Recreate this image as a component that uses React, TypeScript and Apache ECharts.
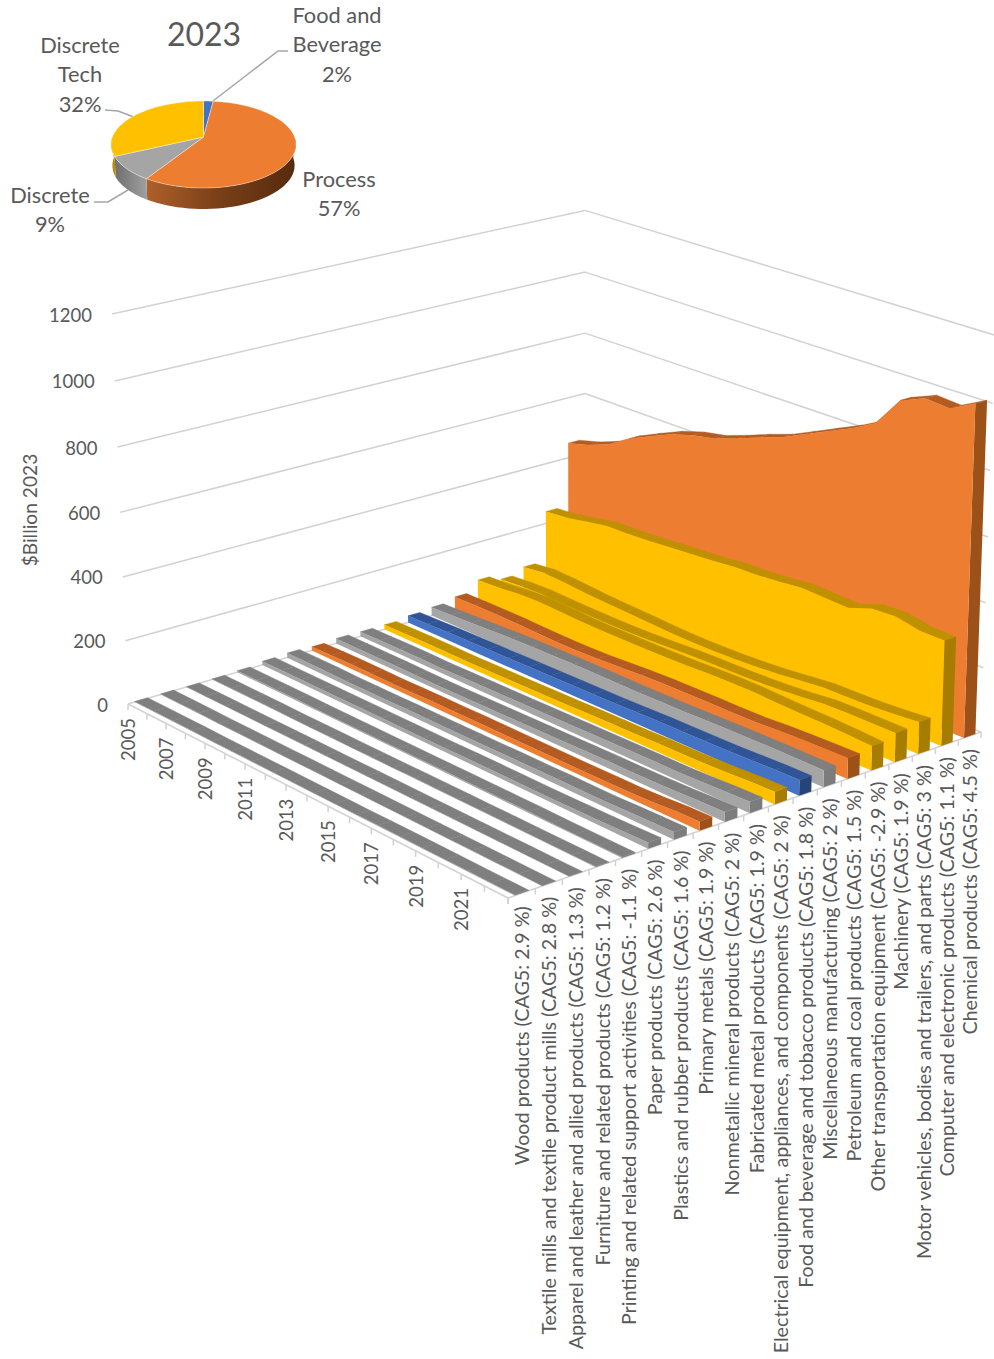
import React, { useEffect, useRef } from "react";
import * as echarts from "echarts";

// Industries along the depth axis, front to back.
const industries = [
  "Wood products (CAG5: 2.9 %)",
  "Textile mills and textile product mills (CAG5: 2.8 %)",
  "Apparel and leather and allied products (CAG5: 1.3 %)",
  "Furniture and related products (CAG5: 1.2 %)",
  "Printing and related support activities (CAG5: -1.1 %)",
  "Paper products (CAG5: 2.6 %)",
  "Plastics and rubber products (CAG5: 1.6 %)",
  "Primary metals (CAG5: 1.9 %)",
  "Nonmetallic mineral products (CAG5: 2 %)",
  "Fabricated metal products (CAG5: 1.9 %)",
  "Electrical equipment, appliances, and components (CAG5: 2 %)",
  "Food and beverage and tobacco products (CAG5: 1.8 %)",
  "Miscellaneous manufacturing (CAG5: 2 %)",
  "Petroleum and coal products (CAG5: 1.5 %)",
  "Other transportation equipment (CAG5: -2.9 %)",
  "Machinery (CAG5: 1.9 %)",
  "Motor vehicles, bodies and trailers, and parts (CAG5: 3 %)",
  "Computer and electronic products (CAG5: 1.1 %)",
  "Chemical products (CAG5: 4.5 %)",
];

// Sector of each industry, same order as above.
const sectors = [
  "discrete", "discrete", "discrete", "discrete", "discrete", "discrete", "discrete",
  "process", "discrete", "discrete", "tech", "food", "discrete", "process",
  "tech", "tech", "tech", "tech", "process",
];

const yearLabels = ["2005", "2007", "2009", "2011", "2013", "2015", "2017", "2019", "2021"];
const yearCount = 19;
const valueTicks = [0, 200, 400, 600, 800, 1000, 1200];

// $Billion, 2005 to 2023.
const wood = [2, 2, 2, 2, 1, 1, 1, 1, 1, 1, 1, 1, 2, 2, 2, 2, 2, 2, 2];
const textile = [2, 2, 2, 1, 1, 1, 1, 1, 1, 1, 1, 1, 1, 1, 1, 1, 1, 1, 1];
const apparel = [1, 1, 1, 1, 1, 1, 1, 1, 1, 1, 1, 1, 1, 1, 1, 1, 1, 1, 1];
const furniture = [2, 2, 2, 2, 1, 1, 1, 1, 1, 1, 2, 2, 2, 2, 2, 2, 2, 2, 2];
const printing = [5, 5, 5, 5, 4, 4, 4, 4, 4, 4, 4, 4, 4, 4, 4, 3, 3, 3, 3];
const paper = [12, 12, 12, 12, 12, 12, 12, 12, 12, 12, 13, 13, 13, 13, 13, 14, 15, 17, 19];
const plastics = [15, 15, 15, 14, 14, 14, 15, 15, 15, 16, 16, 17, 17, 18, 18, 18, 20, 22, 23];
const primaryMetals = [12, 14, 15, 15, 14, 15, 16, 16, 17, 17, 17, 17, 17, 17, 18, 18, 21, 26, 28];
const nonmetallic = [16, 16, 16, 16, 15, 15, 15, 16, 17, 18, 19, 20, 21, 22, 22, 23, 25, 28, 30];
const fabricated = [15, 16, 17, 17, 16, 17, 18, 19, 20, 21, 22, 23, 24, 25, 26, 26, 29, 32, 34];
const electrical = [15, 16, 17, 17, 16, 17, 18, 19, 20, 21, 23, 24, 25, 27, 28, 29, 32, 36, 38];
const foodBeverage = [22, 24, 26, 27, 28, 29, 30, 31, 32, 33, 34, 36, 38, 39, 40, 41, 44, 47, 48];
const miscellaneous = [28, 31, 34, 37, 40, 42, 43, 44, 44, 44, 44, 45, 46, 48, 50, 51, 52, 52, 52];
const petroleum = [40, 41, 41, 40, 38, 36, 36, 38, 42, 46, 49, 50, 51, 51, 52, 57, 60, 62, 64];
const otherTransport = [74, 78, 85, 88, 85, 81, 80, 80, 80, 81, 83, 86, 88, 88, 85, 83, 82, 79, 75];
const machinery = [55, 60, 62, 59, 57, 56, 56, 58, 61, 65, 67, 68, 70, 74, 80, 88, 90, 90, 90];
const motorVehicles = [74, 82, 79, 73, 68, 65, 62, 58, 56, 56, 58, 62, 68, 76, 84, 85, 87, 92, 99];
const computerElectronic = [240, 246, 259, 272, 273, 277, 283, 288, 293, 301, 303, 309, 317, 314, 311, 337, 341, 326, 325];
const chemical = [449, 468, 495, 538, 571, 602, 624, 638, 663, 691, 716, 750, 784, 818, 858, 951, 981, 975, 1014];

const rowValues = [
  wood, textile, apparel, furniture, printing, paper, plastics, primaryMetals, nonmetallic,
  fabricated, electrical, foodBeverage, miscellaneous, petroleum, otherTransport, machinery,
  motorVehicles, computerElectronic, chemical,
];

// Share of 2023 output by sector, clockwise from twelve o'clock.
const pieNames = ["Food and\nBeverage", "Process", "Discrete", "Discrete\nTech"];
const pieShares = [2, 57, 9, 32];

const INK = "#595959";
const FONT = "Lato";
const RULE = "#D2D2D2";
const AXIS_MAX = 1200;
const HALF_DEPTH = 0.0132;

const palette: Record<string, { face: string; top: string; side: string }> = {
  discrete: { face: "#A5A5A5", top: "#7F7F7F", side: "#7C7C7C" },
  process: { face: "#ED7D31", top: "#B35B20", side: "#9C5119" },
  tech: { face: "#FFC000", top: "#BF9000", side: "#A67D00" },
  food: { face: "#4472C4", top: "#2F5597", side: "#264478" },
};

// Pinhole projection of the plot box: u runs across industries, v across years, t is value / max.
function project(u: number, v: number, t: number): number[] {
  const w = 1 + 0.09129 * u - 0.11026 * v - 0.0338 * t;
  return [(128 + 510.4 * u + 324 * v - 19.8 * t) / w, (704 - 80.9 * u + 95 * v - 400.6 * t) / w];
}

const rowU = (i: number) => (i + 0.5) / industries.length;
const yearV = (k: number) => k / (yearCount - 1);

function renderFrame() {
  const children: any[] = [];
  const line = (a: number[], b: number[]) =>
    children.push({
      type: "line",
      shape: { x1: a[0], y1: a[1], x2: b[0], y2: b[1] },
      style: { stroke: RULE, lineWidth: 1.5 },
    });
  const label = (text: string, x: number, y: number, rotation: number, align: string, size: number) =>
    children.push({
      type: "text",
      x,
      y,
      rotation,
      style: { text, x: 0, y: 0, align, verticalAlign: "middle", fill: INK, font: `${size}px ${FONT}` },
    });

  // Back walls.
  for (const tick of valueTicks) {
    const t = tick / AXIS_MAX;
    line(project(0, 0, t), project(1, 0, t));
    line(project(1, 0, t), project(1, 1, t));
    const p = project(0, 0, t);
    label(String(tick), p[0] - 20, p[1] + 0.5, 0, "right", 18.5);
  }

  // Floor edges with their ticks and labels.
  line(project(0, 0, 0), project(0, 1, 0));
  line(project(0, 1, 0), project(1, 1, 0));
  for (let k = 0; k < yearCount; k++) {
    const p = project(0, yearV(k), 0);
    line(p, [p[0], p[1] + 6]);
  }
  yearLabels.forEach((y, n) => {
    const p = project(0, yearV(n * 2), 0);
    label(y, p[0], p[1] + 14, Math.PI / 2, "right", 18.5);
  });
  for (let i = 0; i <= industries.length; i++) {
    const p = project(i / industries.length, 1, 0);
    line(p, [p[0], p[1] + 6]);
  }
  industries.forEach((name, i) => {
    const p = project(rowU(i), 1, 0);
    label(name, p[0], p[1] + 13, Math.PI / 2, "right", 19.7);
  });

  return { type: "group", children };
}

function rowSeries(i: number) {
  const colors = palette[sectors[i]];
  const uf = rowU(i) - HALF_DEPTH;
  const ub = rowU(i) + HALF_DEPTH;
  return {
    type: "custom",
    coordinateSystem: "none",
    silent: true,
    name: industries[i],
    data: rowValues[i].map((value, k) => [k, value]),
    renderItem(params: any, api: any) {
      if (params.dataIndex !== rowValues[i].length - 1) return null;
      const n = rowValues[i].length;
      const children: any[] = [];
      const heights: number[] = [];
      for (let k = 0; k < n; k++) heights.push(api.value(1, k) / AXIS_MAX);

      // Ribbon top, one facet per year step.
      for (let k = 0; k < n - 1; k++) {
        children.push({
          type: "polygon",
          shape: {
            points: [
              project(uf, yearV(k), heights[k]),
              project(uf, yearV(k + 1), heights[k + 1]),
              project(ub, yearV(k + 1), heights[k + 1]),
              project(ub, yearV(k), heights[k]),
            ],
          },
          style: { fill: colors.top, stroke: colors.top, lineWidth: 0.4 },
        });
      }
      // End cap facing the year axis.
      children.push({
        type: "polygon",
        shape: {
          points: [
            project(uf, 1, 0),
            project(ub, 1, 0),
            project(ub, 1, heights[n - 1]),
            project(uf, 1, heights[n - 1]),
          ],
        },
        style: { fill: colors.side },
      });
      // Front face down to the floor.
      const face = [project(uf, 0, 0)];
      for (let k = 0; k < n; k++) face.push(project(uf, yearV(k), heights[k]));
      face.push(project(uf, 1, 0));
      children.push({ type: "polygon", shape: { points: face }, style: { fill: colors.face } });
      return { type: "group", children };
    },
  };
}

// Perspective disc used by the 2023 pie.
const PIE_X = 203.5;
const PIE_Y = 137;
const PIE_R = 91.1;
const PIE_A = 42.2;
const PIE_B = 0.1724;
const PIE_DROP = 21;
const pieColors = ["#4472C4", "#ED7D31", "#A5A5A5", "#FFC000"];
const pieSides: any[] = [
  "#2B4C87",
  new echarts.graphic.LinearGradient(0, 0, 1, 0, [
    { offset: 0, color: "#B0602A" },
    { offset: 0.45, color: "#7C4119" },
    { offset: 1, color: "#552B0E" },
  ]),
  new echarts.graphic.LinearGradient(0, 0, 1, 0, [
    { offset: 0, color: "#6E6E6E" },
    { offset: 1, color: "#A0A0A0" },
  ]),
  "#B88A00",
];

function discPoint(angle: number, dropped: boolean): number[] {
  const s = Math.sin(angle);
  const t = -Math.cos(angle);
  const d = 1 - PIE_B * t;
  const shrink = dropped ? 0.985 : 1;
  return [PIE_X + (shrink * PIE_R * s) / d, PIE_Y + (PIE_A * t) / d + (dropped ? PIE_DROP : 0)];
}

const pieSeries = {
  type: "custom",
  coordinateSystem: "none",
  silent: true,
  name: "2023",
  data: pieNames.map((name, i) => [i, pieShares[i]]),
  renderItem(params: any, api: any) {
    if (params.dataIndex !== pieNames.length - 1) return null;
    const shares = pieNames.map((_, i) => api.value(1, i) as number);
    const total = shares.reduce((a, b) => a + b, 0);
    const sides: any[] = [];
    const tops: any[] = [];
    let start = 0;
    shares.forEach((share, i) => {
      const end = start + (share / total) * Math.PI * 2;
      const rim: number[][] = [];
      const steps = Math.max(4, Math.ceil((end - start) / 0.04));
      for (let n = 0; n <= steps; n++) rim.push(discPoint(start + ((end - start) * n) / steps, false));
      // Only the part of the wall below the disc's widest line can show.
      const a0 = Math.max(start, Math.PI / 2);
      const a1 = Math.min(end, (Math.PI * 3) / 2);
      if (a1 > a0) {
        const wall: number[][] = [];
        for (let n = 0; n <= 40; n++) wall.push(discPoint(a0 + ((a1 - a0) * n) / 40, false));
        for (let n = 40; n >= 0; n--) wall.push(discPoint(a0 + ((a1 - a0) * n) / 40, true));
        sides.push({ type: "polygon", shape: { points: wall }, style: { fill: pieSides[i] } });
      }
      tops.push({
        type: "polygon",
        shape: { points: [[PIE_X, PIE_Y], ...rim] },
        style: { fill: pieColors[i], stroke: "rgba(255,255,255,0.55)", lineWidth: 0.7 },
      });
      start = end;
    });
    return { type: "group", children: [...sides, ...tops] };
  },
};

const pieLabelLayout = [
  { x: 337, y: 14 },
  { x: 339, y: 178 },
  { x: 50, y: 194 },
  { x: 80, y: 44 },
];

const LINE_GAP = 29.6;

function pieLabels(): any[] {
  const out: any[] = [];
  pieNames.forEach((name, i) => {
    const lines = [...name.split("\n"), `${pieShares[i]}%`];
    lines.forEach((text, n) => {
      out.push({
        type: "text",
        x: pieLabelLayout[i].x,
        y: pieLabelLayout[i].y + n * LINE_GAP,
        style: { text, align: "center", verticalAlign: "middle", fill: INK, font: `21.8px ${FONT}` },
      });
    });
  });
  const leaders = [
    [[213, 101], [278, 51], [288, 51]],
    [[105, 110], [118, 111], [134, 117]],
    [[94, 202], [108, 202], [128, 190]],
  ];
  leaders.forEach((points) =>
    out.push({ type: "polyline", shape: { points }, style: { stroke: "#A6A6A6", lineWidth: 1.5, fill: "none" } }),
  );
  out.push({
    type: "text",
    x: 204,
    y: 33,
    style: { text: "2023", align: "center", verticalAlign: "middle", fill: INK, font: `32px ${FONT}` },
  });
  out.push({
    type: "text",
    x: 29,
    y: 510,
    rotation: Math.PI / 2,
    style: { text: "$Billion 2023", align: "center", verticalAlign: "middle", fill: INK, font: `19.2px ${FONT}` },
  });
  return out;
}

export default function App() {
  const ref = useRef<HTMLDivElement>(null);
  useEffect(() => {
    const chart = echarts.init(ref.current!, undefined, { renderer: "svg" });
    chart.setOption({
      animation: false,
      backgroundColor: "#FFFFFF",
      graphic: { elements: pieLabels() },
      series: [
        {
          type: "custom",
          coordinateSystem: "none",
          silent: true,
          name: "frame",
          data: [[0]],
          renderItem: () => renderFrame(),
        },
        ...industries.map((_, i) => i).reverse().map(rowSeries),
        pieSeries,
      ],
    });
    return () => chart.dispose();
  }, []);
  return <div ref={ref} style={{ position: "absolute", left: 0, top: 0, width: 994, height: 1359 }} />;
}
